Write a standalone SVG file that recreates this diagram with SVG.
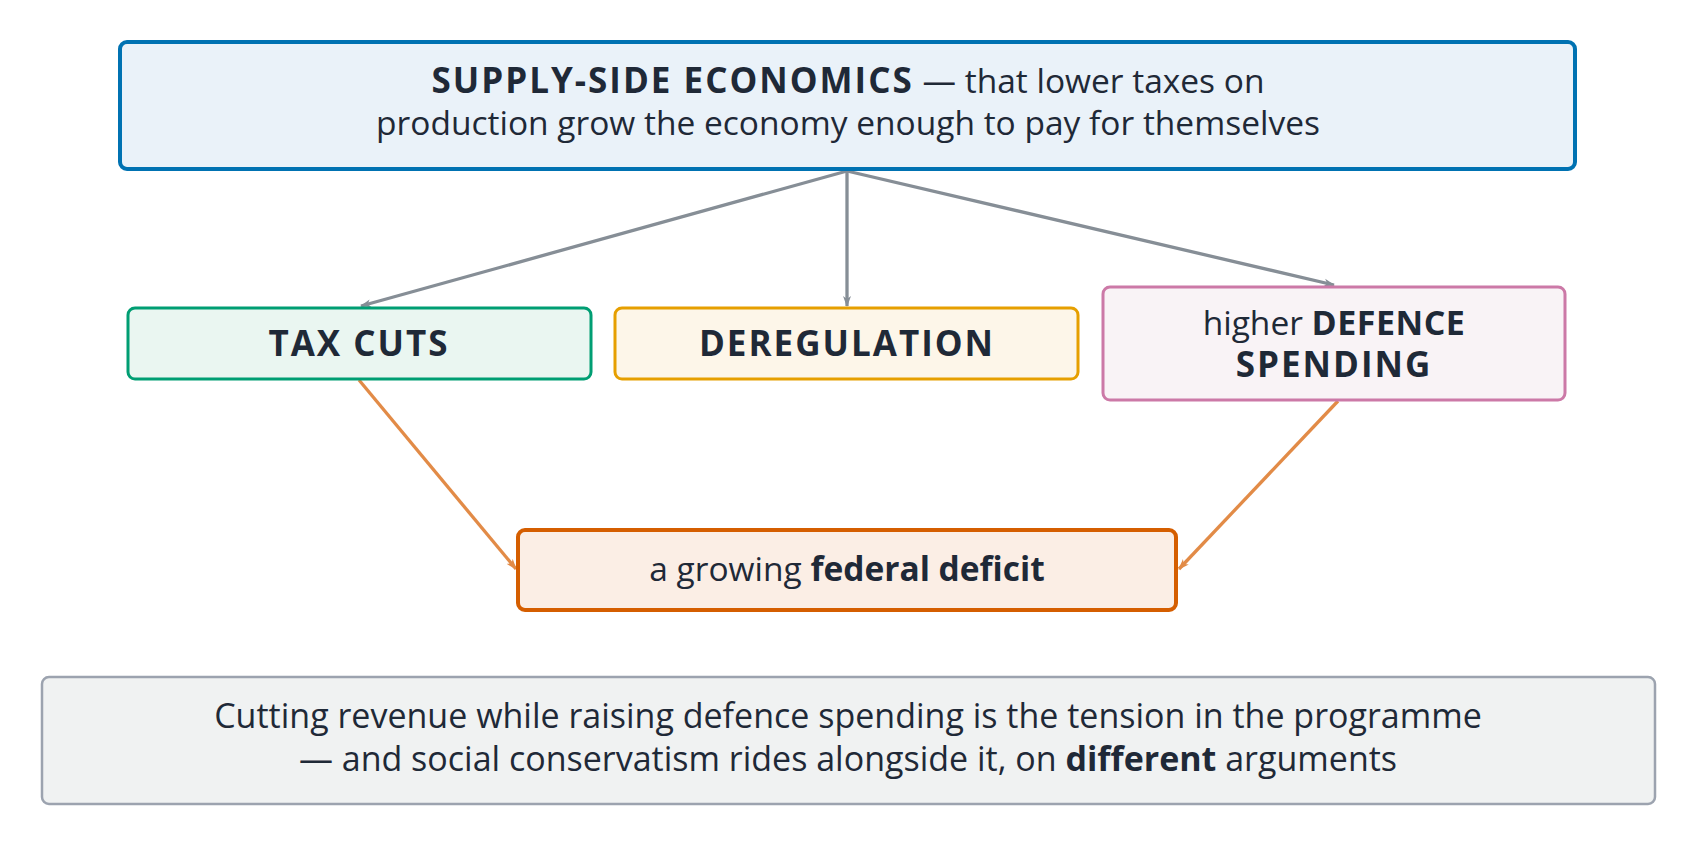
<svg xmlns="http://www.w3.org/2000/svg" width="1696" height="846" viewBox="0 0 1696 846">
<style>
text{font-family:"Open Sans","Liberation Sans",sans-serif;fill:#1f2937;text-anchor:middle}
.b{font-weight:bold}
.t{font-size:33.5px}
.n{font-size:34px}
.cap{font-weight:bold;font-size:35px;letter-spacing:2px}
.cap2{font-weight:bold;font-size:34px;letter-spacing:0.5px}
.gray{stroke:#868e96;stroke-width:3.3;fill:none}
.org{stroke:#e28b47;stroke-width:3.3;fill:none}
</style>
<defs>
<marker id="ag" markerWidth="12" markerHeight="10" refX="10" refY="5" orient="auto" markerUnits="userSpaceOnUse">
<path d="M0,1 L11,5 L0,9 L3,5 Z" fill="#868e96"/>
</marker>
<marker id="ao" markerWidth="12" markerHeight="10" refX="10" refY="5" orient="auto" markerUnits="userSpaceOnUse">
<path d="M0,1 L11,5 L0,9 L3,5 Z" fill="#e28b47"/>
</marker>
</defs>
<rect width="1696" height="846" fill="#fff"/>
<g id="connectors">
<path class="gray" d="M847,171 L361,306" marker-end="url(#ag)"/>
<path class="gray" d="M847,171 L847,306" marker-end="url(#ag)"/>
<path class="gray" d="M847,171 L1334,285" marker-end="url(#ag)"/>
<path class="org" d="M359,380 L516,569" marker-end="url(#ao)"/>
<path class="org" d="M1338,401 L1179,569" marker-end="url(#ao)"/>
</g>
<g id="supply">
<rect x="120" y="42" width="1455" height="127" rx="7" fill="#eaf2f9" stroke="#0072b2" stroke-width="4"/>
<text class="t" x="848" y="93"><tspan class="cap">SUPPLY-SIDE ECONOMICS</tspan> — that lower taxes on</text>
<text class="t" x="848" y="135">production grow the economy enough to pay for themselves</text>
</g>
<g id="taxcuts">
<rect x="128" y="308" width="463" height="71" rx="7" fill="#eaf6f1" stroke="#009e73" stroke-width="3"/>
<text class="cap" x="359" y="356">TAX CUTS</text>
</g>
<g id="dereg">
<rect x="615" y="308" width="463" height="71" rx="7" fill="#fdf6e9" stroke="#e69f00" stroke-width="3"/>
<text class="cap" x="847" y="356">DEREGULATION</text>
</g>
<g id="defence">
<rect x="1103" y="287" width="462" height="113" rx="7" fill="#f9f3f6" stroke="#cc79a7" stroke-width="3"/>
<text class="t" x="1334" y="335">higher <tspan class="cap2">DEFENCE</tspan></text>
<text class="cap" x="1334" y="377">SPENDING</text>
</g>
<g id="deficit">
<rect x="518" y="530" width="658" height="80" rx="7" fill="#fbeee5" stroke="#d55e00" stroke-width="4"/>
<text class="t" x="847" y="581">a growing <tspan class="b">federal deficit</tspan></text>
</g>
<g id="note">
<rect x="42" y="677" width="1613" height="127" rx="7" fill="#f0f2f2" stroke="#9ca3af" stroke-width="2.5"/>
<text class="n" x="848" y="728">Cutting revenue while raising defence spending is the tension in the programme</text>
<text class="n" x="848" y="771">— and social conservatism rides alongside it, on <tspan class="b">different</tspan> arguments</text>
</g>
</svg>
